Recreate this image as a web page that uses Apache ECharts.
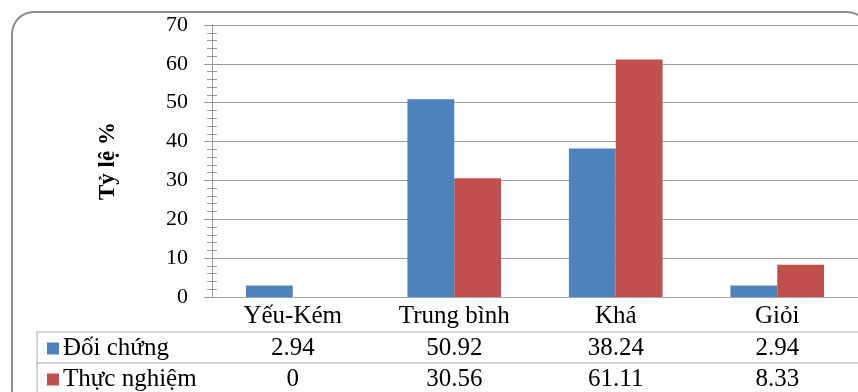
<!DOCTYPE html>
<html>
<head>
<meta charset="utf-8">
<script src="https://cdn.jsdelivr.net/npm/echarts@6/dist/echarts.min.js"></script>
<style>
    html, body { margin: 0; padding: 0; background: #fff; }
    #chart { width: 858px; height: 392px; }
</style>
</head>
<body>
<div id="chart"></div>
<script>
'use strict';

const categories = ['Yếu-Kém', 'Trung bình', 'Khá', 'Giỏi'];
const seriesNames = ['Đối chứng', 'Thực nghiệm'];
const controlValues = [2.94, 50.92, 38.24, 2.94];
const experimentValues = [0, 30.56, 61.11, 8.33];
const seriesColors = ['#4F81BD', '#C0504D'];

const serif = '"Liberation Serif", "Times New Roman", serif';
const lineGray = '#a6a6a6';

const chart = echarts.init(document.getElementById('chart'));

const baseAxis = {
    type: 'value',
    min: 0,
    max: 70,
    interval: 10,
    minorTick: { show: true, splitNumber: 5, length: 5, lineStyle: { color: '#999' } },
};

chart.setOption({
    animation: false,
    grid: { left: 212, top: 25, width: 654, height: 272 },
    xAxis: {
        type: 'category',
        data: categories,
        axisLine: { lineStyle: { color: lineGray } },
        axisTick: { length: 100, lineStyle: { color: lineGray } },
        axisLabel: { color: '#000', fontFamily: serif, fontSize: 25, margin: 7 },
    },
    yAxis: [
        Object.assign({}, baseAxis, {
            name: 'Tỷ lệ %',
            nameLocation: 'middle',
            nameGap: 92,
            nameTextStyle: { color: '#000', fontFamily: serif, fontSize: 23, fontWeight: 'bold' },
            axisLine: { show: true, lineStyle: { color: '#999' } },
            axisTick: { show: true, length: 8, lineStyle: { color: '#999' } },
            axisLabel: { color: '#000', fontFamily: serif, fontSize: 22, margin: 24 },
            splitLine: { show: true, lineStyle: { color: '#999' } },
        }),
        Object.assign({}, baseAxis, {
            position: 'left',
            axisLine: { show: false },
            axisTick: { show: true, inside: true, length: 5, lineStyle: { color: '#999' } },
            axisLabel: { show: false },
            splitLine: { show: false },
        }),
    ],
    series: [
        { name: seriesNames[0], type: 'bar', data: controlValues, barWidth: '29%', barGap: '0%',
          itemStyle: { color: seriesColors[0] } },
        { name: seriesNames[1], type: 'bar', data: experimentValues, barWidth: '29%',
          itemStyle: { color: seriesColors[1] } },
    ],
});

// data table under the axis, built from the same arrays
const tableLeft = 37;
const tableRight = 870;
const rowTop = [332, 363];
const rowHeight = 33;
const rows = [controlValues, experimentValues];

const graphic = [
    {
        type: 'rect', silent: true,
        shape: { x: 12, y: 12, width: 857, height: 400, r: 22 },
        style: { fill: null, stroke: '#8c8c8c', lineWidth: 2 },
    },
    { type: 'line', silent: true, shape: { x1: tableLeft, y1: rowTop[0], x2: tableRight, y2: rowTop[0] },
      style: { stroke: lineGray, lineWidth: 1 } },
    { type: 'line', silent: true, shape: { x1: tableLeft, y1: rowTop[1], x2: tableRight, y2: rowTop[1] },
      style: { stroke: lineGray, lineWidth: 1 } },
    { type: 'line', silent: true, shape: { x1: tableLeft, y1: rowTop[0], x2: tableLeft, y2: 400 },
      style: { stroke: lineGray, lineWidth: 1 } },
];

rows.forEach((vals, r) => {
    const cy = rowTop[r] + rowHeight / 2;
    graphic.push({
        type: 'rect', silent: true,
        shape: { x: 47, y: cy - 6, width: 12, height: 12 },
        style: { fill: seriesColors[r] },
    });
    graphic.push({
        type: 'text', silent: true, x: 63, y: cy,
        style: { text: seriesNames[r], font: '25px ' + serif, fill: '#000', verticalAlign: 'middle' },
    });
    vals.forEach((v, i) => {
        const cx = chart.convertToPixel({ xAxisIndex: 0 }, categories[i]);
        graphic.push({
            type: 'text', silent: true, x: cx, y: cy,
            style: { text: String(v), font: '25px ' + serif, fill: '#000', align: 'center', verticalAlign: 'middle' },
        });
    });
});

chart.setOption({ graphic: graphic });
</script>
</body>
</html>
